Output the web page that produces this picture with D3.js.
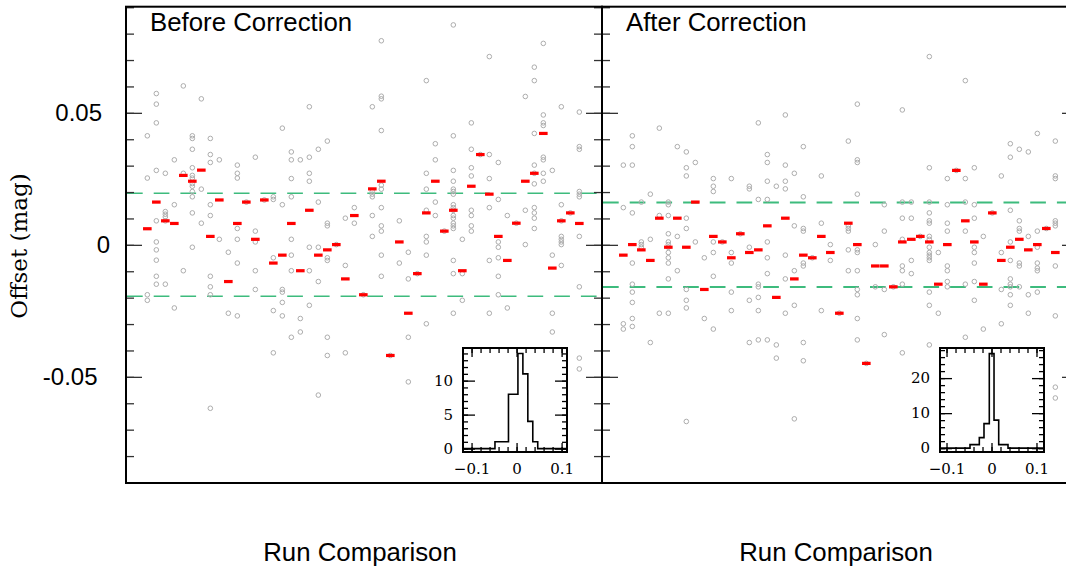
<!DOCTYPE html>
<html>
<head>
<meta charset="utf-8">
<script src="https://cdn.jsdelivr.net/npm/d3@7/dist/d3.min.js"></script>
<style>
    body { margin: 0; background: #fff; }
</style>
</head>
<body>
<div id="chart"></div>
<script>
/* global d3 */

// offsets in mmag, one entry per run comparison (runs 1..49)
var beforeMedian = [6.1, 16.2, 9.1, 8.1, 26.3, 24.1, 28.3, 3.2, 17.0, -13.9,
    8.1, 16.2, 2.1, 17.0, -6.9, -3.9, 8.1, -9.8, 13.1, -3.9,
    -1.9, 0.1, -12.9, 11.1, -18.9, 21.2, 24.1, -41.9, 1.1, -25.9,
    -10.9, 12.1, 24.1, 5.2, 13.1, -9.8, 22.2, 34.2, 19.2, 3.2,
    -5.9, 8.2, 24.1, 27.1, 42.2, -8.8, 9.1, 12.1, 8.1];

var afterMedian = [-3.9, 0.1, -1.9, -5.9, 10.1, -0.9, 10.1, -0.9, 16.2, -16.9,
    3.2, 1.1, -4.9, 4.2, -2.9, -1.9, 7.2, -19.9, 10.1, -12.9,
    -3.9, -4.9, 3.2, -2.9, -25.9, 8.2, 0.1, -44.9, -8.0, -8.0,
    -15.9, 1.1, 2.1, 3.2, 1.1, -14.9, 0.1, 28.2, 9.1, 1.1,
    -14.9, 12.1, -5.9, -0.9, 2.1, -1.9, 0.1, 6.2, -2.9];

var beforePoints = [
    [41.3, 25.3, -18.9, -21.0],
    [57.3, 53.3, 46.2, 28.2, 9.1, 1.1, -1.9, -5.8, -11.9, -14.9],
    [27.1, 12.6, 11.6, 10.6, 9.1, -14.9],
    [32.2, 15.2, -23.9],
    [60.2, 27.1, -9.8],
    [41.3, 40.3, 36.2, 29.2, 26.3, 25.3, 23.2, 22.2, 20.2, 18.2, 12.1, -0.9],
    [55.3, 21.1, 8.2],
    [40.3, 34.2, 31.2, 15.2, 11.1, -11.9, -15.9, -18.9, -61.9],
    [32.2, 2.1],
    [-2.8, -25.9],
    [30.2, 27.1, 25.3, 6.2, 2.1, -6.9, -26.9],
    [16.2],
    [33.2, 5.2, 1.1, -9.8, -16.9],
    [17.0],
    [18.2, 17.2, -4.9, -24.9, -40.9],
    [44.2, 15.2, -16.9, -17.9, -21.8, -26.9],
    [35.2, 32.2, 25.1, 18.2, 2.1, -3.9, -9.8, -35.0],
    [32.2, -27.9, -33.0],
    [52.3, 33.2, 27.1, 24.1, -0.9, -9.8, -22.9],
    [36.2, 16.2, -0.9, -13.9, -56.9],
    [39.3, 8.2, 7.2, -4.9, -5.9, -35.0, -41.9],
    [0.1],
    [10.1, -7.8, -40.9],
    [14.1, 8.2],
    [-18.9],
    [52.3, 20.2, 19.2, 18.2, 11.1, 3.2],
    [77.3, 56.3, 55.3, 43.3, 22.6, 21.1, 14.1, 7.2, 5.2, -3.9, -11.9],
    [-41.9],
    [9.1, -6.9],
    [-2.8, -12.9, -35.0, -51.9],
    [-10.9],
    [62.2, 27.1, 21.1, 13.1, 3.2, 1.1, -3.9, -29.9],
    [38.3, 32.2, 16.2, 11.1],
    [5.2],
    [83.3, 41.3, 28.2, 24.1, 21.1, 20.2, 19.2, 15.2, 14.1, 13.1, 11.1, 10.1, 8.2, 7.2, 6.2, -5.9, -10.9, -25.9],
    [2.1, -10.9, -21.0],
    [46.2, 36.2, 29.2, 26.1, 13.1, 11.1, 7.2, 5.2],
    [34.2],
    [71.3, 34.2, 25.1, 14.1, -5.9, -25.9],
    [31.2, 17.2, 1.1, -0.9, -4.9, -11.9, -18.9],
    [11.1, -23.9],
    [8.2],
    [56.2, 13.1, 0.1],
    [67.3, 62.2, 42.2, 30.2, 27.1, 23.1, 14.1, 12.1, 10.1, 6.2],
    [76.3, 49.2, 46.2, 45.2, 33.2, 32.2, 27.1, 24.1],
    [28.2, -3.9, -25.9, -33.0],
    [52.3, 15.2, 9.1, 3.2, 2.1, 1.1, 0.1, -7.8],
    [12.1],
    [50.3, 37.2, 36.2, 20.2, 19.2, 18.2, 3.2, -15.9, -42.9, -47.0]
];

var afterPoints = [
    [30.2, 14.1, -29.9, -31.9],
    [41.3, 37.2, 30.2, 12.1, -6.9, -14.9, -17.9, -21.8, -27.9, -30.9],
    [16.2, 1.1, 0.1, -0.9],
    [19.2, 2.1, -37.0],
    [44.2, 11.1, -25.9],
    [16.2, 15.2, 11.1, 4.2, 1.1, 0.1, -0.9, -2.9, -4.9, -6.9, -12.9, -25.9],
    [37.2, 3.2, -9.8],
    [35.2, 29.2, 26.1, 10.1, 6.2, -16.9, -21.0, -23.9, -66.9],
    [31.2, 1.1],
    [-4.9, -27.9],
    [25.1, 22.2, 20.2, 1.1, -2.9, -11.9, -31.9],
    [1.1],
    [25.1, -2.9, -6.9, -17.9, -24.9],
    [4.2],
    [22.2, 21.2, -0.9, -21.0, -37.0],
    [46.2, 17.2, -14.9, -15.9, -19.9, -24.9, -36.0],
    [34.2, 31.2, 24.1, 17.2, 1.1, -4.9, -10.9, -36.0],
    [22.2, -37.9, -42.9],
    [49.2, 30.2, 24.1, 21.2, -3.9, -12.9, -25.9],
    [27.1, 7.2, -9.8, -22.9, -65.9],
    [37.2, 18.2, 6.2, 5.2, -6.9, -8.0, -37.0, -43.9],
    [-4.9],
    [26.1, 8.2, -24.9],
    [0.1, -5.9],
    [-25.9],
    [39.3, 7.2, 6.2, 5.2, -1.9, -9.8],
    [53.3, 32.2, 31.2, 19.2, -1.9, -2.9, -9.8, -16.9, -18.9, -27.9, -36.0],
    [-44.9],
    [0.1, -15.9],
    [15.2, 5.2, -16.9, -34.0],
    [-15.9],
    [51.1, 16.2, 10.1, 2.1, -8.0, -9.8, -14.9, -40.9],
    [16.2, 10.1, -5.9, -10.9],
    [3.2],
    [71.3, 29.2, 16.2, 12.1, 9.1, 8.2, 3.2, 2.1, -0.9, -2.9, -3.9, -4.9, -5.9, -17.9, -22.9, -37.9],
    [-2.9, -25.9],
    [25.1, 15.2, 8.2, 5.2, -8.0, -9.8, -13.9, -15.9],
    [28.2],
    [62.2, 25.1, 16.2, 5.2, -14.9, -35.0],
    [29.2, 15.2, 10.1, -0.9, -2.9, -6.9, -13.9, -21.0],
    [3.2, -31.9],
    [12.1],
    [26.1, -2.9, -16.9, -29.9],
    [38.3, 33.2, 13.1, 1.1, -5.9, -12.9, -14.9, -15.9, -18.9, -22.9],
    [36.2, 9.1, 6.2, 5.2, -6.9, -8.0, -15.9],
    [35.2, 3.2, -18.9, -25.9],
    [42.2, 5.2, -0.9, -6.9, -8.8, -9.8, -17.9],
    [6.2],
    [39.3, 26.1, 25.1, 9.1, 8.2, 7.2, -8.0, -26.9, -53.9, -58.0]
];

// +/- limits (mag)
var limitBefore = 0.0195;
var limitAfter = 0.016;

// histograms of the run medians (mag)
var histBeforeEdges = [-0.048, -0.018, 0.003, 0.014, 0.025, 0.036, 0.047];
var histBeforeCounts = [1, 8, 14, 11, 4, 1];
var histAfterEdges = [-0.0478, -0.0271, -0.0167, -0.0049, 0.0056, 0.016, 0.0367];
var histAfterCounts = [1, 3, 7, 27, 8, 1];

var yTickValues = [0.05, 0, -0.05];
var yTickLabels = ['0.05', '0', '-0.05'];
var histXTicks = [-0.1, 0, 0.1];
var histXLabels = ['\u22120.1', '0', '0.1'];

var panelTitles = ['Before Correction', 'After Correction'];
var xTitle = 'Run Comparison';
var yTitle = 'Offset (mag)';

var width = 1066, height = 567;
var panelW = 476, frameTop = 6.7, frameBottom = 483;
var sans = '"Liberation Sans", Arial, Helvetica, sans-serif';
var serif = '"DejaVu Serif", serif';

var svg = d3.select('#chart')
    .append('svg')
    .attr('width', width)
    .attr('height', height)
    .style('display', 'block');

var y = d3.scaleLinear().domain([-0.0902, 0.0902]).range([frameBottom, frameTop]);

var panels = [
    {left: 126, title: panelTitles[0], median: beforeMedian, points: beforePoints, limit: limitBefore,
        limitWidth: 1.5, edges: histBeforeEdges, counts: histBeforeCounts,
        hxDomain: [-0.119, 0.112], hyDomain: [-0.5, 14.8], hyMinor: 1, hyMajor: [0, 5, 10], insetLeft: 463},
    {left: 602, title: panelTitles[1], median: afterMedian, points: afterPoints, limit: limitAfter,
        limitWidth: 2, edges: histAfterEdges, counts: histAfterCounts,
        hxDomain: [-0.1145, 0.1167], hyDomain: [-1.1, 28.6], hyMinor: 2, hyMajor: [0, 10, 20], insetLeft: 940}
];

var minorTicks = d3.range(-9, 10).map(function(k) { return k / 100; });

function styleAxis(sel) {
    sel.select('.domain').remove();
    sel.selectAll('line').attr('stroke', '#333').attr('stroke-width', 1.3);
}

function drawPanel(p) {
    var x = d3.scaleLinear().domain([-1.37, 51.52]).range([p.left, p.left + panelW]);
    var g = svg.append('g');

    // limits
    g.selectAll('line.limit')
        .data([p.limit, -p.limit])
        .enter()
        .append('line')
        .attr('x1', p.left + 1)
        .attr('x2', p.left + panelW)
        .attr('y1', function(d) { return y(d); })
        .attr('y2', function(d) { return y(d); })
        .attr('stroke', '#3dbb7d')
        .attr('stroke-width', p.limitWidth)
        .attr('stroke-dasharray', '15.7,11');

    // individual offsets
    p.points.forEach(function(vals, i) {
        g.selectAll(null)
            .data(vals)
            .enter()
            .append('circle')
            .attr('cx', x(i + 1))
            .attr('cy', function(d) { return y(d / 1000); })
            .attr('r', 2.3)
            .attr('fill', 'none')
            .attr('stroke', '#adadad')
            .attr('stroke-width', 1);
    });

    // medians
    g.selectAll('rect.median')
        .data(p.median)
        .enter()
        .append('rect')
        .attr('x', function(d, i) { return x(i + 1) - 4.3; })
        .attr('y', function(d) { return y(d / 1000) - 1.6; })
        .attr('width', 8.6)
        .attr('height', 3.2)
        .attr('fill', '#ff0000');

    // ticks on both sides, pointing inward
    g.append('g')
        .attr('transform', 'translate(' + p.left + ',0)')
        .call(d3.axisLeft(y).tickValues(minorTicks).tickSizeInner(-8).tickSizeOuter(0).tickFormat(''))
        .call(styleAxis);
    g.append('g')
        .attr('transform', 'translate(' + (p.left + panelW) + ',0)')
        .call(d3.axisRight(y).tickValues(minorTicks).tickSizeInner(-8).tickSizeOuter(0).tickFormat(''))
        .call(styleAxis);
    g.append('g')
        .attr('transform', 'translate(' + (p.left + panelW) + ',0)')
        .call(d3.axisRight(y).tickValues(yTickValues).tickSizeInner(-16).tickSizeOuter(0).tickFormat(''))
        .call(styleAxis);
    var yl = g.append('g')
        .attr('transform', 'translate(' + p.left + ',0)')
        .call(d3.axisLeft(y).tickValues(yTickValues).tickSizeInner(-16).tickSizeOuter(0)
            .tickPadding(24)
            .tickFormat(function(d, i) { return p.left < 200 ? yTickLabels[i] : ''; }))
        .call(styleAxis);
    // the zero label sits further right, negative one a bit further left
    yl.selectAll('text')
        .attr('font-family', sans)
        .attr('font-size', 24)
        .attr('fill', '#000')
        .attr('dx', function(d) { return d === 0 ? 8 : (d < 0 ? -4.5 : 0); });

    // frame
    g.append('rect')
        .attr('x', p.left)
        .attr('y', frameTop)
        .attr('width', panelW)
        .attr('height', frameBottom - frameTop)
        .attr('fill', 'none')
        .attr('stroke', '#000')
        .attr('stroke-width', 2);

    g.append('text')
        .attr('x', p.left + 24)
        .attr('y', 31)
        .attr('font-family', sans)
        .attr('font-size', 25.8)
        .text(p.title);

    g.append('text')
        .attr('x', p.left + 234)
        .attr('y', 561)
        .attr('text-anchor', 'middle')
        .attr('font-family', sans)
        .attr('font-size', 25.8)
        .text(xTitle);

    drawInset(p);
}

function drawInset(p) {
    var l = p.insetLeft, t = 348, w = 104, h = 104;
    var hx = d3.scaleLinear().domain(p.hxDomain).range([l, l + w]);
    var hy = d3.scaleLinear().domain(p.hyDomain).range([t + h, t]);
    var g = svg.append('g');

    g.append('rect')
        .attr('x', l).attr('y', t).attr('width', w).attr('height', h)
        .attr('fill', '#fff');

    var pts = [[p.hxDomain[0], 0], [p.edges[0], 0]];
    p.counts.forEach(function(c, i) {
        pts.push([p.edges[i], c]);
        pts.push([p.edges[i + 1], c]);
    });
    pts.push([p.edges[p.edges.length - 1], 0]);
    pts.push([p.hxDomain[1], 0]);

    g.append('path')
        .datum(pts)
        .attr('d', d3.line().x(function(d) { return hx(d[0]); }).y(function(d) { return hy(d[1]); }))
        .attr('fill', 'none')
        .attr('stroke', '#000')
        .attr('stroke-width', 1.6);

    var xMinor = d3.range(-5, 6).map(function(k) { return k / 50; });
    var yMinor = d3.range(0, p.hyDomain[1], p.hyMinor);

    function inner(sel) {
        sel.select('.domain').remove();
        sel.selectAll('line').attr('stroke', '#000').attr('stroke-width', 1.3);
    }

    g.append('g').attr('transform', 'translate(0,' + (t + h) + ')')
        .call(d3.axisBottom(hx).tickValues(xMinor).tickSizeInner(-5).tickSizeOuter(0).tickFormat('')).call(inner);
    g.append('g').attr('transform', 'translate(0,' + t + ')')
        .call(d3.axisTop(hx).tickValues(xMinor).tickSizeInner(-5).tickSizeOuter(0).tickFormat('')).call(inner);
    g.append('g').attr('transform', 'translate(0,' + t + ')')
        .call(d3.axisTop(hx).tickValues(histXTicks).tickSizeInner(-9).tickSizeOuter(0).tickFormat('')).call(inner);
    var xb = g.append('g').attr('transform', 'translate(0,' + (t + h) + ')')
        .call(d3.axisBottom(hx).tickValues(histXTicks).tickSizeInner(-9).tickSizeOuter(0).tickPadding(11)
            .tickFormat(function(d, i) { return histXLabels[i]; }))
        .call(inner);

    g.append('g').attr('transform', 'translate(' + l + ',0)')
        .call(d3.axisLeft(hy).tickValues(yMinor).tickSizeInner(-5).tickSizeOuter(0).tickFormat('')).call(inner);
    g.append('g').attr('transform', 'translate(' + (l + w) + ',0)')
        .call(d3.axisRight(hy).tickValues(yMinor).tickSizeInner(-5).tickSizeOuter(0).tickFormat('')).call(inner);
    g.append('g').attr('transform', 'translate(' + (l + w) + ',0)')
        .call(d3.axisRight(hy).tickValues(p.hyMajor).tickSizeInner(-12).tickSizeOuter(0).tickFormat('')).call(inner);
    var yb = g.append('g').attr('transform', 'translate(' + l + ',0)')
        .call(d3.axisLeft(hy).tickValues(p.hyMajor).tickSizeInner(-12).tickSizeOuter(0).tickPadding(10))
        .call(inner);

    xb.selectAll('text').attr('font-family', serif).attr('font-size', 15).attr('fill', '#000');
    yb.selectAll('text').attr('font-family', serif).attr('font-size', 15).attr('fill', '#000');

    g.append('rect')
        .attr('x', l).attr('y', t).attr('width', w).attr('height', h)
        .attr('fill', 'none')
        .attr('stroke', '#000')
        .attr('stroke-width', 2);
}

panels.forEach(drawPanel);

svg.append('text')
    .attr('transform', 'translate(27,246) rotate(-90)')
    .attr('text-anchor', 'middle')
    .attr('font-family', serif)
    .attr('font-size', 23)
    .text(yTitle);
</script>
</body>
</html>
